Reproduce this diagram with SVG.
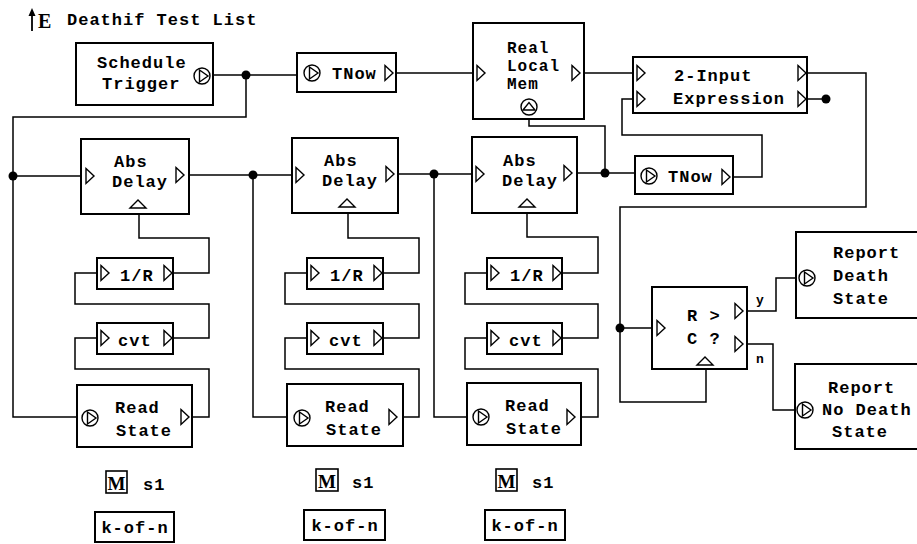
<svg xmlns="http://www.w3.org/2000/svg" xmlns:xlink="http://www.w3.org/1999/xlink" width="917" height="544" viewBox="0 0 917 544">
<style>
.box{fill:#fff;stroke:#000;stroke-width:2}
.w{fill:none;stroke:#000;stroke-width:1.5}
.p{fill:#fff;stroke:#000;stroke-width:1.4}
.dot{fill:#000}
.t{font-family:"Liberation Mono","DejaVu Sans Mono",monospace;font-weight:bold;font-size:17px;letter-spacing:1px;fill:#000}
.s{font-family:"Liberation Mono","DejaVu Sans Mono",monospace;font-weight:bold;font-size:13px;fill:#000}
.m{font-family:"Liberation Serif","DejaVu Serif",serif;font-weight:bold;font-size:19px;fill:#000}
</style>
<defs>
<path id="tr" d="M0,-7.5 L8,0 L0,7.5 Z"/>
<path id="tu" d="M-8,0 L0,-8 L8,0 Z"/>
<g id="cp"><circle r="8"/><path d="M-2.5,-6 L6,0 L-2.5,6 Z"/></g>
<g id="cu"><circle r="8"/><path d="M-6,3 L0,-4.5 L6,3 Z"/></g>
</defs>
<rect width="917" height="544" fill="#fff"/>

<g id="title">
<line x1="32" y1="31" x2="32" y2="14" class="w" style="stroke-width:1.8"/>
<path d="M28.5,16 L32,8 L35.5,16 Z" class="dot"/>
<text x="38" y="28" class="m" style="font-size:20px">E</text>
<text x="67" y="25" class="t">Deathif Test List</text>
</g>

<g id="connectors">
<path class="w" d="M213,75 H297"/>
<path class="w" d="M246,75 V117 H13 V417 H77"/>
<path class="w" d="M396,73 H473"/>
<path class="w" d="M584,73 H633"/>
<path class="w" d="M529,115 V126 H605 V173"/>
<path class="w" d="M807,99 H826"/>
<path class="w" d="M633,99 H622 V135 H762 V177 H733"/>
<path class="w" d="M807,73 H866 V207 H620 V402 H706 V369"/>
<path class="w" d="M620,328 H652"/>
<path class="w" d="M747,311 H776 V278 H799"/>
<path class="w" d="M747,344 H773 V410 H797"/>
<path class="w" d="M13,176 H81"/>
<path class="w" d="M189,175 H292"/>
<path class="w" d="M398,174 H472"/>
<path class="w" d="M577,173 H635"/>
<path class="w" d="M253,175 V417 H287"/>
<path class="w" d="M434,174 V417 H467"/>
<path class="w" d="M139,214 V238 H209 V273 H173"/>
<path class="w" d="M97,273 H75 V304 H209 V338 H173"/>
<path class="w" d="M97,338 H75 V369 H209 V417 H189"/>
<path class="w" d="M348,213 V238 H419 V273 H383"/>
<path class="w" d="M307,273 H285 V304 H419 V338 H383"/>
<path class="w" d="M307,338 H285 V369 H419 V417 H397"/>
<path class="w" d="M527,213 V237 H598 V273 H562"/>
<path class="w" d="M487,273 H465 V304 H598 V338 H562"/>
<path class="w" d="M487,338 H465 V369 H598 V417 H575"/>
<circle class="dot" cx="246" cy="75" r="4.5"/>
<circle class="dot" cx="13" cy="176" r="4.5"/>
<circle class="dot" cx="253" cy="175" r="4.5"/>
<circle class="dot" cx="434" cy="174" r="4.5"/>
<circle class="dot" cx="605" cy="173" r="4.5"/>
<circle class="dot" cx="620" cy="328" r="4.5"/>
<circle class="dot" cx="826" cy="99" r="4.5"/>
</g>

<g id="schedule-trigger">
<rect class="box" x="76" y="43" width="137" height="62"/>
<text class="t" x="97" y="68">Schedule</text>
<text class="t" x="102" y="89">Trigger</text>
<use href="#cp" xlink:href="#cp" x="202" y="76" class="p"/>
</g>

<g id="tnow1">
<rect class="box" x="297" y="53" width="99" height="39"/>
<use href="#cp" xlink:href="#cp" x="312" y="73" class="p"/>
<text class="t" x="332" y="79">TNow</text>
<use href="#tr" xlink:href="#tr" x="385" y="73" class="p"/>
</g>

<g id="real-local-mem">
<rect class="box" x="473" y="23" width="111" height="96"/>
<use href="#tr" xlink:href="#tr" x="477" y="73" class="p"/>
<text class="t" x="507" y="53" style="font-size:16px">Real</text>
<text class="t" x="507" y="71" style="font-size:16px">Local</text>
<text class="t" x="507" y="89" style="font-size:16px">Mem</text>
<use href="#tr" xlink:href="#tr" x="572" y="73" class="p"/>
<use href="#cu" xlink:href="#cu" x="529" y="107" class="p"/>
</g>

<g id="two-input-expression">
<rect class="box" x="633" y="57" width="174" height="56"/>
<use href="#tr" xlink:href="#tr" x="637" y="73" class="p"/>
<use href="#tr" xlink:href="#tr" x="637" y="99" class="p"/>
<text class="t" x="674" y="81">2-Input</text>
<text class="t" x="673" y="104">Expression</text>
<use href="#tr" xlink:href="#tr" x="798" y="73" class="p"/>
<use href="#tr" xlink:href="#tr" x="798" y="99" class="p"/>
</g>

<g id="tnow2">
<rect class="box" x="635" y="156" width="98" height="38"/>
<use href="#cp" xlink:href="#cp" x="649" y="176" class="p"/>
<text class="t" x="668" y="182">TNow</text>
<use href="#tr" xlink:href="#tr" x="722" y="177" class="p"/>
</g>

<g id="abs-delay-1">
<rect class="box" x="81" y="139" width="108" height="75"/>
<use href="#tr" xlink:href="#tr" x="86" y="176" class="p"/>
<text class="t" x="114" y="167">Abs</text>
<text class="t" x="112" y="187">Delay</text>
<use href="#tr" xlink:href="#tr" x="176" y="175" class="p"/>
<use href="#tu" xlink:href="#tu" x="138" y="208" class="p"/>
</g>
<g id="inv-r-1">
<rect class="box" x="97" y="258" width="76" height="31"/>
<use href="#tr" xlink:href="#tr" x="101" y="273" class="p"/>
<text class="t" x="120" y="281">1/R</text>
<use href="#tr" xlink:href="#tr" x="164" y="273" class="p"/>
</g>
<g id="cvt-1">
<rect class="box" x="97" y="323" width="76" height="31"/>
<use href="#tr" xlink:href="#tr" x="101" y="338" class="p"/>
<text class="t" x="118" y="346">cvt</text>
<use href="#tr" xlink:href="#tr" x="164" y="338" class="p"/>
</g>
<g id="read-state-1">
<rect class="box" x="77" y="385" width="115" height="62"/>
<use href="#cp" xlink:href="#cp" x="90" y="418" class="p"/>
<text class="t" x="115" y="413">Read</text>
<text class="t" x="116" y="436">State</text>
<use href="#tr" xlink:href="#tr" x="181" y="417" class="p"/>
</g>
<g id="m-s1-1">
<rect class="box" x="106" y="471" width="21" height="22" style="stroke-width:1.6"/>
<text class="m" x="116.5" y="490" text-anchor="middle">M</text>
<text class="t" x="143" y="490">s1</text>
</g>
<g id="kofn-1">
<rect class="box" x="95" y="512" width="79" height="30"/>
<text class="t" x="135" y="533" text-anchor="middle">k-of-n</text>
</g>

<g id="abs-delay-2">
<rect class="box" x="292" y="138" width="106" height="75"/>
<use href="#tr" xlink:href="#tr" x="296" y="175" class="p"/>
<text class="t" x="324" y="166">Abs</text>
<text class="t" x="322" y="186">Delay</text>
<use href="#tr" xlink:href="#tr" x="386" y="174" class="p"/>
<use href="#tu" xlink:href="#tu" x="347" y="207" class="p"/>
</g>
<g id="inv-r-2">
<rect class="box" x="307" y="258" width="76" height="31"/>
<use href="#tr" xlink:href="#tr" x="311" y="273" class="p"/>
<text class="t" x="330" y="281">1/R</text>
<use href="#tr" xlink:href="#tr" x="374" y="273" class="p"/>
</g>
<g id="cvt-2">
<rect class="box" x="307" y="323" width="76" height="31"/>
<use href="#tr" xlink:href="#tr" x="311" y="338" class="p"/>
<text class="t" x="329" y="346">cvt</text>
<use href="#tr" xlink:href="#tr" x="374" y="338" class="p"/>
</g>
<g id="read-state-2">
<rect class="box" x="287" y="384" width="116" height="62"/>
<use href="#cp" xlink:href="#cp" x="302" y="418" class="p"/>
<text class="t" x="325" y="412">Read</text>
<text class="t" x="326" y="435">State</text>
<use href="#tr" xlink:href="#tr" x="389" y="417" class="p"/>
</g>
<g id="m-s1-2">
<rect class="box" x="316" y="469" width="22" height="22" style="stroke-width:1.6"/>
<text class="m" x="327" y="488" text-anchor="middle">M</text>
<text class="t" x="352" y="488">s1</text>
</g>
<g id="kofn-2">
<rect class="box" x="304" y="510" width="81" height="30"/>
<text class="t" x="345" y="531" text-anchor="middle">k-of-n</text>
</g>

<g id="abs-delay-3">
<rect class="box" x="472" y="137" width="105" height="76"/>
<use href="#tr" xlink:href="#tr" x="476" y="174" class="p"/>
<text class="t" x="503" y="166">Abs</text>
<text class="t" x="502" y="186">Delay</text>
<use href="#tr" xlink:href="#tr" x="564" y="173" class="p"/>
<use href="#tu" xlink:href="#tu" x="527" y="207" class="p"/>
</g>
<g id="inv-r-3">
<rect class="box" x="487" y="258" width="75" height="31"/>
<use href="#tr" xlink:href="#tr" x="491" y="273" class="p"/>
<text class="t" x="510" y="281">1/R</text>
<use href="#tr" xlink:href="#tr" x="553" y="273" class="p"/>
</g>
<g id="cvt-3">
<rect class="box" x="487" y="323" width="75" height="31"/>
<use href="#tr" xlink:href="#tr" x="491" y="338" class="p"/>
<text class="t" x="509" y="346">cvt</text>
<use href="#tr" xlink:href="#tr" x="553" y="338" class="p"/>
</g>
<g id="read-state-3">
<rect class="box" x="467" y="383" width="114" height="62"/>
<use href="#cp" xlink:href="#cp" x="481" y="417" class="p"/>
<text class="t" x="505" y="411">Read</text>
<text class="t" x="506" y="434">State</text>
<use href="#tr" xlink:href="#tr" x="567" y="417" class="p"/>
</g>
<g id="m-s1-3">
<rect class="box" x="496" y="469" width="21" height="22" style="stroke-width:1.6"/>
<text class="m" x="506.5" y="488" text-anchor="middle">M</text>
<text class="t" x="532" y="488">s1</text>
</g>
<g id="kofn-3">
<rect class="box" x="485" y="510" width="80" height="30"/>
<text class="t" x="525" y="531" text-anchor="middle">k-of-n</text>
</g>

<g id="r-gt-c">
<rect class="box" x="652" y="287" width="95" height="82"/>
<use href="#tr" xlink:href="#tr" x="657" y="328" class="p"/>
<text class="t" x="687" y="321">R &gt;</text>
<text class="t" x="687" y="344">C ?</text>
<use href="#tr" xlink:href="#tr" x="735" y="311" class="p"/>
<use href="#tr" xlink:href="#tr" x="735" y="344" class="p"/>
<use href="#tu" xlink:href="#tu" x="705" y="365" class="p"/>
<text class="s" x="756" y="304">y</text>
<text class="s" x="756" y="363">n</text>
</g>

<g id="report-death-state">
<rect class="box" x="796" y="232" width="124" height="86"/>
<use href="#cp" xlink:href="#cp" x="807" y="278" class="p"/>
<text class="t" x="833" y="258">Report</text>
<text class="t" x="833" y="281">Death</text>
<text class="t" x="833" y="304">State</text>
</g>

<g id="report-no-death-state">
<rect class="box" x="795" y="364" width="125" height="85"/>
<use href="#cp" xlink:href="#cp" x="805" y="410" class="p"/>
<text class="t" x="828" y="393">Report</text>
<text class="t" x="822" y="415">No Death</text>
<text class="t" x="832" y="437">State</text>
</g>
</svg>
